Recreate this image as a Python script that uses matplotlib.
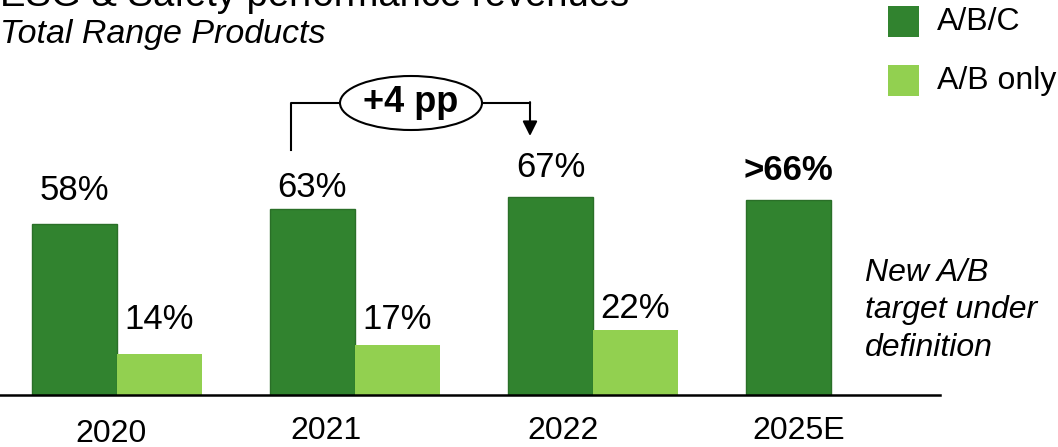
import matplotlib.pyplot as plt
from matplotlib.patches import Ellipse, Rectangle

plt.rcParams['font.family'] = ['Liberation Sans', 'DejaVu Sans']

# chart data
years = ['2020', '2021', '2022', '2025E']
abc = [58, 63, 67, 66]
abc_labels = ['58%', '63%', '67%', '>66%']
ab_only = [14, 17, 22]
ab_only_labels = ['14%', '17%', '22%']

DARK = '#31832F'
DARK_EDGE = '#2A6F28'
LIGHT = '#92D050'

W, H = 1058, 447
fig = plt.figure(figsize=(W / 100, H / 100), dpi=100)

# axes: baseline at y=395px, from x=0 to 940px
ax = fig.add_axes([0, 52 / H, 940 / W, 395 / H])
ax.set_xlim(-117 / 238, (940 - 117) / 238)
ax.set_ylim(0, 395 / 2.95)

bw = 85 / 238
abc_gap = [8, 4, 7, 7]
ab_gap = [8.5, 5.5, 4]
for i, v in enumerate(abc):
    ax.bar(i - bw / 2, v, width=bw, color=DARK, edgecolor=DARK_EDGE, linewidth=1)
    ax.text(i - bw / 2, v + abc_gap[i], abc_labels[i], ha='center', va='baseline', fontsize=25,
            fontweight='bold' if abc_labels[i].startswith('>') else 'normal')
for i, v in enumerate(ab_only):
    ax.bar(i + bw / 2, v, width=bw, color=LIGHT, linewidth=0)
    ax.text(i + bw / 2, v + ab_gap[i], ab_only_labels[i], ha='center', va='baseline', fontsize=25)

for s in ['top', 'right', 'left']:
    ax.spines[s].set_visible(False)
ax.spines['bottom'].set_linewidth(1.8)
ax.set_yticks([])
ax.set_xticks([])

# year labels under the axis
year_offsets = [-0.025, -0.12, -0.125, -0.135]
year_drop = [8, 7, 7, 7]
for i, yr in enumerate(years):
    ax.text(i + year_offsets[i], -year_drop[i], yr, ha='center', va='top', fontsize=23)

# +4 pp bracket
lx, rx = (291 - 117) / 238, (530 - 117) / 238
yb = (395 - 103) / 2.95
ax.plot([lx, lx, 1.0], [83, yb, yb], color='black', lw=1.5, clip_on=False)
ax.plot([1.47, rx], [yb, yb], color='black', lw=1.5, clip_on=False)
ax.annotate('', xy=(rx, (395 - 136) / 2.95), xytext=(rx, yb + 0.3),
            arrowprops=dict(arrowstyle='-|>', color='black', lw=1.5, mutation_scale=22,
                            shrinkA=0, shrinkB=0), annotation_clip=False)
ax.add_patch(Ellipse(((411 - 117) / 238, yb), 142 / 238, 54 / 2.95, facecolor='white',
                     edgecolor='black', lw=1.5, clip_on=False, zorder=3))
ax.text((411 - 117) / 238, yb, '+4 pp', ha='center', va='center', fontsize=26,
        fontweight='bold', zorder=4)

# titles (top line is cut by the frame edge, as in the source slide)
fig.text(0.0, 1 - 6 / H, 'ESG & Safety performance revenues', fontsize=27.5, va='baseline', ha='left')
fig.text(0.0, 1 - 43 / H, 'Total Range Products', fontsize=24.5, style='italic', va='baseline', ha='left')

# legend
for k, (lab, col) in enumerate([('A/B/C', DARK), ('A/B only', LIGHT)]):
    y0 = 6 + k * 59
    fig.patches.append(Rectangle((888 / W, 1 - (y0 + 31) / H), 31 / W, 31 / H,
                                 transform=fig.transFigure, facecolor=col, edgecolor='none'))
    fig.text(937 / W, 1 - (y0 + 16) / H, lab, fontsize=23, va='center', ha='left')

fig.text(865 / W, 1 - 258 / H, 'New A/B\ntarget under\ndefinition', fontsize=23,
         style='italic', va='top', ha='left', linespacing=1.32)

fig.savefig('out.png', dpi=100)
